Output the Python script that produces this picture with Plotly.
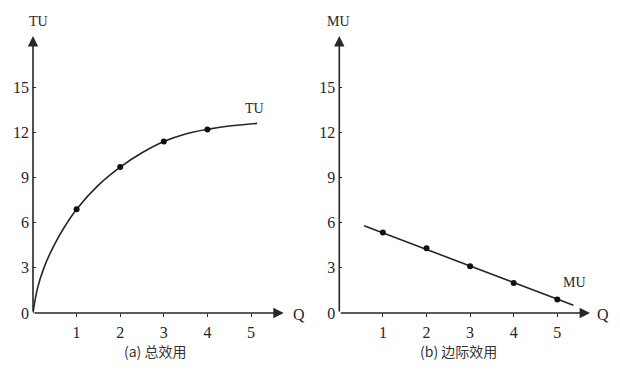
import plotly.graph_objects as go

# ---- data ----
q_ticks = [1, 2, 3, 4, 5]
y_ticks = [0, 3, 6, 9, 12, 15]

# total utility curve (left panel)
tu_curve_q = [0, 0.1, 0.25, 0.5, 0.75, 1, 1.5, 2, 2.5, 3, 3.5, 4, 4.5, 5.14]
tu_curve_v = [0, 1.6, 3.0, 4.6, 5.85, 6.9, 8.5, 9.7, 10.65, 11.4, 11.9, 12.2, 12.42, 12.6]
tu_dots_q = [1, 2, 3, 4]
tu_dots_v = [6.9, 9.7, 11.4, 12.2]

# marginal utility line (right panel)
mu_line_q = [0.57, 5.37]
mu_line_v = [5.8, 0.51]
mu_dots_q = [1, 2, 3, 4, 5]
mu_dots_v = [5.35, 4.3, 3.1, 2.0, 0.9]

captions = ["(a) 总效用", "(b) 边际效用"]

# page body has an 8px margin: make the figure fit the 620x376 window
OFF = 8
W, H = 620 - OFF, 376 - OFF
INK = "#262626"
SERIF = "Liberation Serif"
CJK = "Noto Sans CJK SC"

X_MAX = 5.75
Y_MAX = 18.4
YPX = 15.05
unit = 43.6
l0, r0 = 33, 339.3   # window-pixel x of the two y axes
base = 313           # window-pixel y of the x axes


def fx(xpix):
    return (xpix - OFF) / W


def fy(ypix):
    return (H - (ypix - OFF)) / H


fig = go.Figure()

fig.add_trace(go.Scatter(x=tu_curve_q, y=tu_curve_v, mode="lines",
                         line=dict(color=INK, width=1.6, shape="spline", smoothing=1.0),
                         xaxis="x", yaxis="y", hoverinfo="skip", cliponaxis=False))
fig.add_trace(go.Scatter(x=tu_dots_q, y=tu_dots_v, mode="markers",
                         marker=dict(color="#111", size=6),
                         xaxis="x", yaxis="y"))
fig.add_trace(go.Scatter(x=mu_line_q, y=mu_line_v, mode="lines",
                         line=dict(color=INK, width=1.6),
                         xaxis="x2", yaxis="y2", hoverinfo="skip"))
fig.add_trace(go.Scatter(x=mu_dots_q, y=mu_dots_v, mode="markers",
                         marker=dict(color="#111", size=6),
                         xaxis="x2", yaxis="y2"))


def xaxis(dom, anchor):
    return dict(domain=dom, range=[0, X_MAX], anchor=anchor, showgrid=False, zeroline=False,
                showline=False, automargin=False, tickmode="array", tickvals=q_ticks,
                ticktext=[str(v) for v in q_ticks], ticks="outside", ticklen=3,
                tickcolor=INK, tickwidth=1.2, ticklabelstandoff=2,
                tickfont=dict(family=SERIF, size=16, color=INK))


def yaxis(anchor):
    return dict(domain=[fy(base), fy(base - Y_MAX * YPX)], range=[0, Y_MAX], anchor=anchor,
                showgrid=False, zeroline=False, showline=False, automargin=False,
                tickmode="array", tickvals=y_ticks, ticktext=[str(v) for v in y_ticks],
                ticks="inside", ticklen=3, tickcolor=INK, tickwidth=1.2,
                ticklabelstandoff=3, tickfont=dict(family=SERIF, size=16, color=INK))


fig.update_layout(
    template="none",
    width=W, height=H, margin=dict(l=0, r=0, t=0, b=0, pad=0, autoexpand=False),
    paper_bgcolor="white", plot_bgcolor="white", showlegend=False,
    xaxis=xaxis([fx(l0), fx(l0 + X_MAX * unit)], "y"),
    yaxis=yaxis("x"),
    xaxis2=xaxis([fx(r0), fx(r0 + X_MAX * unit)], "y2"),
    yaxis2=yaxis("x2"),
)

ann = []
for xr, yr in (("x", "y"), ("x2", "y2")):
    # axis arrows
    ann.append(dict(x=0, y=Y_MAX, ax=0, ay=0, xref=xr, yref=yr, axref=xr, ayref=yr,
                    text="", showarrow=True, arrowhead=2, arrowsize=1.3, arrowwidth=1.6,
                    arrowcolor=INK, standoff=0, startstandoff=0))
    ann.append(dict(x=X_MAX, y=0, ax=0, ay=0, xref=xr, yref=yr, axref=xr, ayref=yr,
                    text="", showarrow=True, arrowhead=2, arrowsize=1.3, arrowwidth=1.6,
                    arrowcolor=INK, standoff=0, startstandoff=0))

labels = [
    ("Q", 299, 314, 16), ("Q", 603, 314, 16),
    ("TU", 38.5, 22, 14), ("MU", 338, 22, 14),
    ("TU", 254, 108, 14), ("MU", 574, 282, 14),
]
for t, xp, yp, s in labels:
    ann.append(dict(x=fx(xp), y=fy(yp), xref="paper", yref="paper", text=t,
                    showarrow=False, xanchor="center", yanchor="middle",
                    font=dict(family=SERIF, size=s, color=INK)))

for t, xp in zip(captions, (155, 458)):
    ann.append(dict(x=fx(xp), y=fy(351), xref="paper", yref="paper", text=t,
                    showarrow=False, xanchor="center", yanchor="middle",
                    font=dict(family=CJK, size=14, color="#333")))

fig.update_layout(annotations=ann)
fig.write_html("out.html")
